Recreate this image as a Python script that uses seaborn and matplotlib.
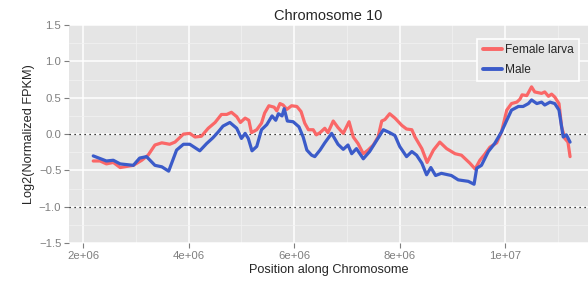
import numpy as np
import pandas as pd
import matplotlib
matplotlib.use('Agg')
import matplotlib.pyplot as plt
from matplotlib.ticker import MultipleLocator
import seaborn as sns

# positions in Mb
female_pos = [2.19, 2.32, 2.44, 2.57, 2.70, 2.95, 3.11, 3.23, 3.36, 3.49, 3.64, 3.74, 3.90, 4.02,
              4.12, 4.24, 4.37, 4.50, 4.62, 4.72, 4.81, 4.91, 4.98, 5.07, 5.14, 5.19, 5.29, 5.38,
              5.44, 5.52, 5.62, 5.67, 5.73, 5.79, 5.86, 5.95, 6.05, 6.13, 6.20, 6.27, 6.36, 6.42,
              6.49, 6.58, 6.64, 6.74, 6.83, 6.93, 7.04, 7.12, 7.21, 7.31, 7.40, 7.50, 7.59, 7.66,
              7.72, 7.81, 7.91, 8.04, 8.13, 8.23, 8.29, 8.42, 8.52, 8.64, 8.76, 8.89, 9.05, 9.17,
              9.33, 9.43, 9.52, 9.61, 9.71, 9.84, 9.93, 10.03, 10.12, 10.22, 10.28, 10.32, 10.41,
              10.50, 10.56, 10.69, 10.75, 10.82, 10.88, 10.94, 11.02, 11.07, 11.13, 11.19, 11.23]
female_val = [-0.37, -0.37, -0.41, -0.39, -0.46, -0.43, -0.36, -0.29, -0.15, -0.12, -0.14, -0.11,
              0.00, 0.01, -0.04, -0.03, 0.08, 0.16, 0.27, 0.27, 0.30, 0.24, 0.16, 0.22, 0.19, 0.02,
              0.06, 0.15, 0.29, 0.39, 0.37, 0.32, 0.42, 0.40, 0.34, 0.39, 0.38, 0.31, 0.15, 0.06,
              0.06, -0.01, 0.02, 0.08, 0.02, 0.18, 0.09, 0.01, 0.17, -0.04, -0.13, -0.27, -0.22,
              -0.15, -0.04, 0.18, 0.20, 0.28, 0.22, 0.12, 0.07, 0.06, -0.04, -0.20, -0.39, -0.22,
              -0.11, -0.20, -0.27, -0.29, -0.40, -0.48, -0.36, -0.28, -0.18, -0.12, 0.03, 0.33,
              0.42, 0.44, 0.48, 0.54, 0.53, 0.65, 0.58, 0.56, 0.58, 0.52, 0.55, 0.51, 0.42, 0.10,
              -0.06, -0.11, -0.31]

male_pos = [2.19, 2.44, 2.57, 2.70, 2.95, 3.07, 3.20, 3.36, 3.49, 3.62, 3.77, 3.90, 4.02, 4.21,
            4.34, 4.46, 4.56, 4.65, 4.78, 4.91, 5.00, 5.07, 5.13, 5.20, 5.29, 5.38, 5.48, 5.58,
            5.65, 5.70, 5.77, 5.81, 5.87, 5.98, 6.09, 6.17, 6.24, 6.33, 6.39, 6.49, 6.58, 6.71,
            6.83, 6.93, 7.02, 7.09, 7.18, 7.31, 7.43, 7.56, 7.69, 7.81, 7.91, 8.00, 8.13, 8.23,
            8.32, 8.42, 8.51, 8.59, 8.68, 8.79, 8.98, 9.11, 9.30, 9.41, 9.46, 9.55, 9.68, 9.80,
            9.93, 10.03, 10.12, 10.25, 10.34, 10.44, 10.50, 10.60, 10.69, 10.75, 10.85, 10.94,
            11.02, 11.10, 11.16, 11.23]
male_val = [-0.30, -0.37, -0.36, -0.41, -0.43, -0.33, -0.31, -0.43, -0.45, -0.51, -0.22, -0.14,
            -0.14, -0.23, -0.13, -0.05, 0.03, 0.11, 0.16, 0.08, -0.06, 0.01, -0.06, -0.23, -0.17,
            0.06, 0.13, 0.25, 0.19, 0.28, 0.25, 0.35, 0.18, 0.17, 0.10, -0.04, -0.22, -0.29,
            -0.31, -0.22, -0.12, 0.01, -0.14, -0.21, -0.15, -0.27, -0.20, -0.34, -0.24, -0.09,
            0.06, 0.02, -0.02, -0.17, -0.31, -0.24, -0.29, -0.40, -0.56, -0.46, -0.57, -0.54,
            -0.57, -0.63, -0.65, -0.69, -0.47, -0.43, -0.24, -0.13, 0.03, 0.19, 0.33, 0.38, 0.38,
            0.42, 0.47, 0.42, 0.44, 0.40, 0.44, 0.42, 0.33, -0.04, -0.01, -0.11]

x_ticks = [2e6, 4e6, 6e6, 8e6, 1e7]
x_tick_labels = ['2e+06', '4e+06', '6e+06', '8e+06', '1e+07']
y_ticks = [-1.5, -1.0, -0.5, 0.0, 0.5, 1.0, 1.5]
y_tick_labels = ['\u22121.5', '\u22121.0', '\u22120.5', '0.0', '0.5', '1.0', '1.5']

df = pd.concat([
    pd.DataFrame({'pos': np.array(female_pos) * 1e6, 'val': female_val, 'group': 'Female larva'}),
    pd.DataFrame({'pos': np.array(male_pos) * 1e6, 'val': male_val, 'group': 'Male'}),
])

sns.set_theme(style='darkgrid', rc={'axes.facecolor': '#E5E5E5', 'grid.color': 'white'})
plt.rcParams['font.family'] = ['Liberation Sans', 'DejaVu Sans']

fig = plt.figure(figsize=(5.88, 2.85), dpi=100)
ax = fig.add_axes([0.1173, 0.147, 0.8827, 0.765])

sns.lineplot(data=df, x='pos', y='val', hue='group', ax=ax, lw=2.3,
             palette={'Female larva': '#FA6767', 'Male': '#3B5BC9'}, sort=False,
             estimator=None)

ax.axhline(0, color='black', lw=0.9, ls=(0, (1, 3)), zorder=1)
ax.axhline(-1, color='black', lw=0.9, ls=(0, (1, 3)), zorder=1)

ax.set_xlim(1.73e6, 11.57e6)
ax.set_ylim(-1.5, 1.5)
ax.set_xticks(x_ticks)
ax.set_xticklabels(x_tick_labels)
ax.set_yticks(y_ticks)
ax.set_yticklabels(y_tick_labels)
ax.xaxis.set_minor_locator(MultipleLocator(1e6))
ax.yaxis.set_minor_locator(MultipleLocator(0.25))
ax.grid(which='major', color='white', lw=1.1)
ax.grid(which='minor', color='#F2F2F2', lw=0.5)
ax.set_axisbelow(True)
for s in ax.spines.values():
    s.set_visible(False)

ax.tick_params(axis='both', which='major', labelsize=8.2, labelcolor='#7F7F7F',
               color='#7F7F7F', length=3.5, width=0.8, pad=2, bottom=True, left=True)
ax.tick_params(which='minor', length=0)

ax.set_title('Chromosome 10', fontsize=10.5, pad=4)
ax.set_xlabel('Position along Chromosome', fontsize=9.2, labelpad=2.5)
ax.set_ylabel('Log2(Normalized FPKM)', fontsize=9.2, labelpad=3)

leg = ax.legend(loc='upper right', bbox_to_anchor=(0.995, 0.965), fontsize=8.6,
                frameon=True, facecolor='#E5E5E5', edgecolor='white', framealpha=1,
                handlelength=1.6, handletextpad=0.3, borderpad=0.45, labelspacing=0.65,
                fancybox=False)
leg.get_frame().set_linewidth(1.2)
for line in leg.get_lines():
    line.set_linewidth(2.8)

fig.savefig('out.png', dpi=100)
